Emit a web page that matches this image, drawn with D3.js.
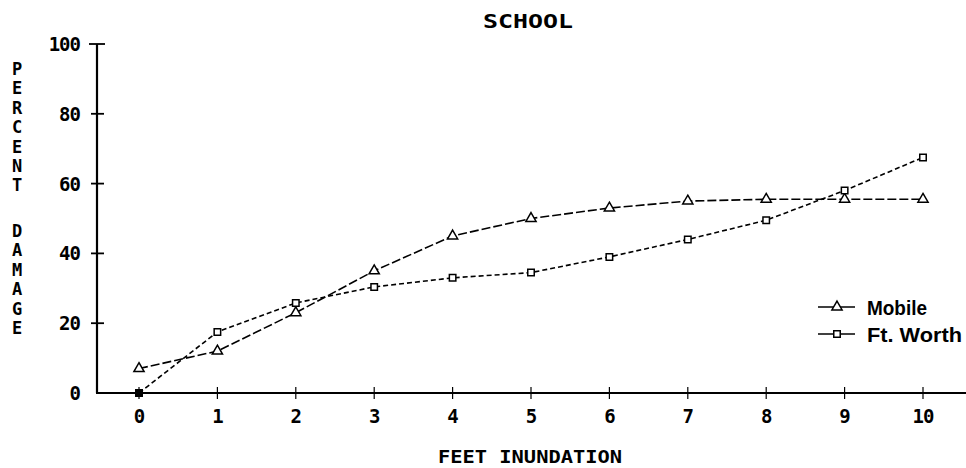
<!DOCTYPE html>
<html>
<head>
<meta charset="utf-8">
<script src="https://cdn.jsdelivr.net/npm/d3@7"></script>
<style>
  html, body { margin: 0; padding: 0; background: #fff; }
  svg { display: block; }
</style>
</head>
<body>
<svg id="chart" width="966" height="468"></svg>
<script>
// ---- data ----
const feet = [0, 1, 2, 3, 4, 5, 6, 7, 8, 9, 10];
const mobile = [7, 12, 23, 35, 45, 50, 53, 55, 55.5, 55.5, 55.5];
const ftWorth = [0, 17.5, 25.8, 30.4, 33, 34.5, 39, 44, 49.5, 58, 67.5];
const yTicks = [0, 20, 40, 60, 80, 100];
const seriesNames = ["Mobile", "Ft. Worth"];
const titleText = "SCHOOL";
const xLabel = "FEET INUNDATION";
const yLabelWords = ["PERCENT", "DAMAGE"];

// ---- layout ----
const svg = d3.select("#chart");
const axisX = 97;           // y-axis position
const x = d3.scaleLinear().domain([0, 10]).range([139, 923]);
const y = d3.scaleLinear().domain([0, 100]).range([393, 44]);
const mono = "'DejaVu Sans Mono', 'Liberation Mono', monospace";
const narrow = "'Liberation Sans Narrow', 'Liberation Sans', Arial, sans-serif";

// title
svg.append("text")
  .attr("x", 528).attr("y", 28)
  .attr("text-anchor", "middle")
  .attr("font-family", mono).attr("font-weight", "bold")
  .attr("font-size", 20)
  .attr("textLength", 90).attr("lengthAdjust", "spacingAndGlyphs")
  .text(titleText);

// y axis
const gy = svg.append("g");
gy.append("line")
  .attr("x1", axisX).attr("x2", axisX)
  .attr("y1", y(100)).attr("y2", y(0))
  .attr("stroke", "#000").attr("stroke-width", 2.2);
gy.selectAll("line.tick").data(yTicks.filter(d => d > 0)).join("line")
  .attr("class", "tick")
  .attr("x1", d => d === 100 ? axisX - 8 : axisX - 6)
  .attr("x2", d => d === 100 ? axisX + 8 : axisX + 7)
  .attr("y1", d => y(d)).attr("y2", d => y(d))
  .attr("stroke", "#000").attr("stroke-width", 1.8);
gy.selectAll("text").data(yTicks).join("text")
  .attr("x", 80).attr("y", d => y(d) + 7)
  .attr("text-anchor", "end")
  .attr("font-family", mono).attr("font-weight", "bold")
  .attr("font-size", 19)
  .attr("letter-spacing", -1)
  .text(d => d);

// x axis
const gx = svg.append("g");
gx.append("line")
  .attr("x1", axisX - 1).attr("x2", 966)
  .attr("y1", y(0)).attr("y2", y(0))
  .attr("stroke", "#000").attr("stroke-width", 1.8);
gx.selectAll("line.tick").data(feet).join("line")
  .attr("class", "tick")
  .attr("x1", d => x(d)).attr("x2", d => x(d))
  .attr("y1", y(0) - 6).attr("y2", y(0) + 6)
  .attr("stroke", "#000").attr("stroke-width", 1.2);
gx.selectAll("text").data(feet).join("text")
  .attr("x", d => x(d)).attr("y", 423)
  .attr("text-anchor", "middle")
  .attr("font-family", mono).attr("font-weight", "bold")
  .attr("font-size", 19)
  .attr("letter-spacing", -1)
  .text(d => d);

// x label
svg.append("text")
  .attr("x", 530).attr("y", 463)
  .attr("text-anchor", "middle")
  .attr("font-family", mono).attr("font-weight", "bold")
  .attr("font-size", 18)
  .attr("textLength", 184).attr("lengthAdjust", "spacingAndGlyphs")
  .text(xLabel);

// y label (stacked letters)
const yLetters = [];
let pos = 0;
yLabelWords.forEach((w, wi) => {
  if (wi > 0) pos += 1.35;
  w.split("").forEach(ch => { yLetters.push({ch, pos}); pos += 1; });
});
svg.append("g").selectAll("text").data(yLetters).join("text")
  .attr("x", 17).attr("y", d => 75 + d.pos * 19.4)
  .attr("text-anchor", "middle")
  .attr("font-family", mono).attr("font-weight", "bold")
  .attr("font-size", 17)
  .text(d => d.ch);

// lines
const mobileData = feet.map((f, i) => ({x: f, y: mobile[i]}));
const ftData = feet.map((f, i) => ({x: f, y: ftWorth[i]}));
const line = d3.line().x(d => x(d.x)).y(d => y(d.y));

svg.append("path").datum(mobileData)
  .attr("d", line).attr("fill", "none")
  .attr("stroke", "#000").attr("stroke-width", 1.6)
  .attr("stroke-dasharray", "9,3");
svg.append("path").datum(ftData)
  .attr("d", line).attr("fill", "none")
  .attr("stroke", "#000").attr("stroke-width", 1.6)
  .attr("stroke-dasharray", "5,3");

// markers
const tri = d3.symbol().type(d3.symbolTriangle).size(45);
const sq = d3.symbol().type(d3.symbolSquare).size(42);
svg.append("g").selectAll("path").data(mobileData).join("path")
  .attr("transform", d => `translate(${x(d.x)},${y(d.y)})`)
  .attr("d", tri).attr("fill", "#fff").attr("stroke", "#000").attr("stroke-width", 1.5);
svg.append("g").selectAll("path").data(ftData).join("path")
  .attr("transform", d => `translate(${x(d.x)},${y(d.y)})`)
  .attr("d", sq).attr("fill", d => d.y === 0 ? "#000" : "#fff")
  .attr("stroke", "#000").attr("stroke-width", 1.5);

// legend
const legend = svg.append("g");
const legendRows = [
  {name: seriesNames[0], sym: tri, ly: 307, w: 60},
  {name: seriesNames[1], sym: sq, ly: 334, w: 95}
];
legendRows.forEach(r => {
  legend.append("line")
    .attr("x1", 818).attr("x2", 855).attr("y1", r.ly).attr("y2", r.ly)
    .attr("stroke", "#000").attr("stroke-width", 1.6);
  legend.append("path")
    .attr("transform", `translate(837,${r.ly})`)
    .attr("d", r.sym).attr("fill", "#fff").attr("stroke", "#000").attr("stroke-width", 1.5);
  legend.append("text")
    .attr("x", 867).attr("y", r.ly + 8)
    .attr("font-family", narrow).attr("font-weight", "bold")
    .attr("font-size", 20)
    .attr("textLength", r.w).attr("lengthAdjust", "spacingAndGlyphs")
    .text(r.name);
});
</script>
</body>
</html>
